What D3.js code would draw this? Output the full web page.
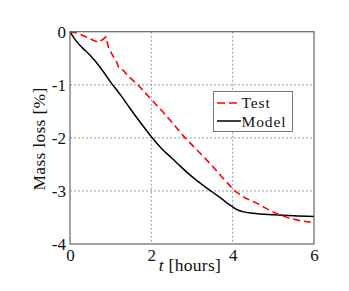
<!DOCTYPE html>
<html><head><meta charset="utf-8">
<script src="https://cdn.jsdelivr.net/npm/d3@7"></script>
<style>body{margin:0;background:#fff}svg{display:block}text{font-family:"Liberation Serif";fill:#111}</style>
</head><body><svg id="c" width="349" height="291"></svg>
<script>
const xTicks=[0,2,4,6];
const yTicks=[0,-1,-2,-3,-4];
const testT=[0,0.2,0.4,0.6,0.7,0.8,0.88,0.95,1.05,1.12,1.2,1.3,1.45,1.67,2.0,2.25,2.5,2.83,3.2,3.5,3.75,4.05,4.3,4.59,4.8,5.08,5.35,5.65,6.0];
const testV=[0,-0.03,-0.1,-0.17,-0.2,-0.15,-0.1,-0.3,-0.45,-0.52,-0.68,-0.72,-0.85,-1.0,-1.28,-1.48,-1.7,-2.0,-2.29,-2.53,-2.75,-3.0,-3.13,-3.23,-3.32,-3.43,-3.5,-3.56,-3.6];
const modelT=[0,0.1,0.2,0.3,0.5,0.75,1.0,1.25,1.5,1.75,2.0,2.25,2.5,2.75,3.0,3.25,3.5,3.75,3.9,4.0,4.1,4.25,4.5,5.0,5.5,6.0];
const modelV=[0,-0.12,-0.22,-0.3,-0.45,-0.68,-0.95,-1.2,-1.47,-1.73,-1.98,-2.2,-2.38,-2.56,-2.73,-2.88,-3.02,-3.16,-3.25,-3.3,-3.35,-3.39,-3.42,-3.45,-3.47,-3.48];
const seriesNames=["Test","Model"];

const FONT='"Liberation Serif"';
const svg=d3.select("#c");
const L=70,R=314,T=31.7,B=244;
const x=d3.scaleLinear().domain([0,6]).range([L,R]);
const y=d3.scaleLinear().domain([-4,0]).range([B,T]);

// grid
const g=svg.append("g");
g.selectAll(".gx").data(xTicks.slice(1,-1)).join("line")
 .attr("x1",d=>x(d)).attr("x2",d=>x(d)).attr("y1",T).attr("y2",B)
 .attr("stroke","#999").attr("stroke-width",1).attr("stroke-dasharray","2,2");
g.selectAll(".gy").data(yTicks.slice(1,-1)).join("line")
 .attr("y1",d=>y(d)).attr("y2",d=>y(d)).attr("x1",L).attr("x2",R)
 .attr("stroke","#999").attr("stroke-width",1).attr("stroke-dasharray","2,2");

// axes labels via d3 axes
const xa=svg.append("g").attr("transform",`translate(0,${B})`)
 .call(d3.axisBottom(x).tickValues(xTicks).tickSize(0).tickPadding(3).tickFormat(d3.format("d")));
const ya=svg.append("g").attr("transform",`translate(${L},0)`)
 .call(d3.axisLeft(y).tickValues(yTicks).tickSize(0).tickPadding(4).tickFormat(d=>d===0?"0":String(d)));
[xa,ya].forEach(a=>{a.attr("font-family",null).attr("font-size",null);a.select(".domain").remove();a.selectAll("text").style("font-family",FONT).style("font-size","17px").attr("fill","#111");});
xa.selectAll("text").attr("dy","0.85em");
ya.selectAll("text").attr("dy","0.33em");

// lines
const line=d3.line().x(d=>x(d[0])).y(d=>y(d[1]));
const lineM=d3.line().x(d=>x(d[0])).y(d=>y(d[1])).curve(d3.curveMonotoneX);
svg.append("path").datum(modelT.map((t,i)=>[t,modelV[i]])).attr("d",lineM)
 .attr("fill","none").attr("stroke","#000").attr("stroke-width",1.5);
svg.append("path").datum(testT.map((t,i)=>[t,testV[i]])).attr("d",line)
 .attr("fill","none").attr("stroke","#f00").attr("stroke-width",1.6).attr("stroke-dasharray","7,4");

// frame
svg.append("rect").attr("x",L).attr("y",T).attr("width",R-L).attr("height",B-T)
 .attr("fill","none").attr("stroke","#666").attr("stroke-width",1.2);

// legend
const lg=svg.append("g");
lg.append("rect").attr("x",213.5).attr("y",91.5).attr("width",79).attr("height",40)
 .attr("fill","#fff").attr("stroke","#777").attr("stroke-width",1);
lg.append("line").attr("x1",217).attr("x2",241).attr("y1",103).attr("y2",103)
 .attr("stroke","#f00").attr("stroke-width",1.6).attr("stroke-dasharray","8,4");
lg.append("line").attr("x1",217).attr("x2",241).attr("y1",121).attr("y2",121)
 .attr("stroke","#000").attr("stroke-width",1.5);
lg.append("text").attr("x",241.5).attr("y",108).style("font-family",FONT).style("font-size","15.5px").style("letter-spacing","0.9px").text(seriesNames[0]);
lg.append("text").attr("x",241.5).attr("y",126.5).style("font-family",FONT).style("font-size","15.5px").style("letter-spacing","0.9px").text(seriesNames[1]);

// axis titles
const xt=svg.append("text").attr("x",190).attr("y",271).attr("text-anchor","middle").style("font-family",FONT).style("font-size","17.5px").style("letter-spacing","0.3px");
xt.append("tspan").style("font-style","italic").text("t");
xt.append("tspan").text(" [hours]");
svg.append("text").attr("transform","translate(45,139) rotate(-90)").attr("text-anchor","middle")
 .style("font-family",FONT).style("font-size","17.5px").style("letter-spacing","0.3px").text("Mass loss [%]");
</script></body></html>
